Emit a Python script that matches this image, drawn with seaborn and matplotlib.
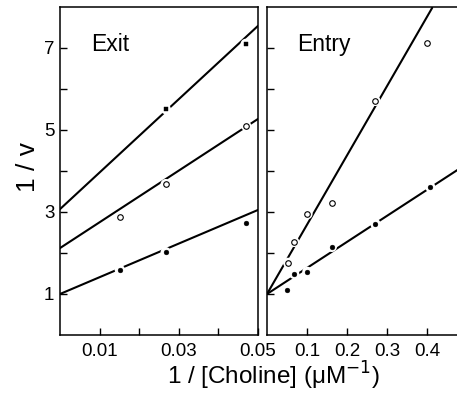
import matplotlib
matplotlib.use("Agg")
import matplotlib.pyplot as plt
import seaborn as sns
import pandas as pd
from matplotlib.ticker import MultipleLocator, FixedLocator

# ---- data ----
exit_sq_x = [0.0267, 0.0469]
exit_sq_y = [5.51, 7.10]
exit_open_x = [0.0151, 0.0267, 0.0470]
exit_open_y = [2.88, 3.68, 5.10]
exit_dot_x = [0.0151, 0.0267, 0.0470]
exit_dot_y = [1.59, 2.02, 2.73]

exit_fit_x = [0.0, 0.05]
exit_fit_sq_y = [3.07, 7.54]
exit_fit_open_y = [2.12, 5.27]
exit_fit_dot_y = [1.00, 3.05]

entry_open_x = [0.053, 0.068, 0.101, 0.162, 0.271, 0.400]
entry_open_y = [1.76, 2.27, 2.95, 3.22, 5.71, 7.12]
entry_dot_x = [0.051, 0.068, 0.101, 0.162, 0.271, 0.408]
entry_dot_y = [1.10, 1.49, 1.54, 2.15, 2.71, 3.61]

entry_fit_open_x = [0.0, 0.413]
entry_fit_open_y = [1.00, 7.98]
entry_fit_dot_x = [0.0, 0.48]
entry_fit_dot_y = [1.00, 4.05]

exit_xticks = [0.01, 0.03, 0.05]
exit_xtick_labels = ["0.01", "0.03", "0.05"]
entry_xticks = [0.1, 0.2, 0.3, 0.4]
entry_xtick_labels = ["0.1", "0.2", "0.3", "0.4"]
yticks = [1, 3, 5, 7]
ytick_labels = ["1", "3", "5", "7"]

sns.set_theme(style="ticks")
plt.rcParams["font.family"] = ["Liberation Sans", "DejaVu Sans"]
plt.rcParams["axes.linewidth"] = 1.1
plt.rcParams["xtick.direction"] = "in"
plt.rcParams["ytick.direction"] = "in"

W, H = 457, 398
fig = plt.figure(figsize=(W / 100, H / 100), dpi=100)
fig.patch.set_facecolor("white")

axL = fig.add_axes([60 / W, 1 - 335 / H, (258 - 60) / W, (335 - 7) / H])
axR = fig.add_axes([267 / W, 1 - 335 / H, (W - 267 + 2) / W, (335 - 7) / H])

LW = 1.5


def fit_line(ax, xs, ys):
    sns.lineplot(x=xs, y=ys, ax=ax, color="black", linewidth=LW,
                 estimator=None, sort=False, zorder=2)


def points(ax, xs, ys, kind):
    # white halo to break the line around the marker
    sns.scatterplot(x=xs, y=ys, ax=ax, s=55, color="white",
                    edgecolor="none", marker="o", zorder=3)
    if kind == "dot":
        sns.scatterplot(x=xs, y=ys, ax=ax, s=12, color="black",
                        edgecolor="black", linewidth=0.3, marker="o", zorder=4)
    elif kind == "sq":
        sns.scatterplot(x=xs, y=ys, ax=ax, s=12, color="black",
                        edgecolor="black", linewidth=0.3, marker="s", zorder=4)
    else:
        sns.scatterplot(x=xs, y=ys, ax=ax, s=16, color="white",
                        edgecolor="black", linewidth=0.8, marker="o", zorder=4)


# Exit panel
fit_line(axL, exit_fit_x, exit_fit_sq_y)
fit_line(axL, exit_fit_x, exit_fit_open_y)
fit_line(axL, exit_fit_x, exit_fit_dot_y)
points(axL, exit_sq_x, exit_sq_y, "sq")
points(axL, exit_open_x, exit_open_y, "open")
points(axL, exit_dot_x, exit_dot_y, "dot")

# Entry panel
fit_line(axR, entry_fit_open_x, entry_fit_open_y)
fit_line(axR, entry_fit_dot_x, entry_fit_dot_y)
points(axR, entry_open_x, entry_open_y, "open")
points(axR, entry_dot_x, entry_dot_y, "dot")

for ax in (axL, axR):
    ax.set_ylim(0, 8)
    ax.set_xlabel("")
    ax.set_ylabel("")
    ax.set_facecolor("white")
    for sp in ax.spines.values():
        sp.set_color("black")
        sp.set_linewidth(1.1)
    ax.set_yticks(yticks)
    ax.yaxis.set_minor_locator(FixedLocator([2, 4, 6]))
    ax.tick_params(which="both", direction="in", length=5, width=1.0,
                   color="black", labelsize=13.5, labelcolor="black")
    ax.tick_params(which="both", top=False, right=False)

axL.set_xlim(0, 0.05)
axL.set_xticks(exit_xticks)
axL.set_xticklabels(exit_xtick_labels)
axL.xaxis.set_minor_locator(FixedLocator([0.02, 0.04]))
axL.set_yticklabels(ytick_labels)
axL.tick_params(axis="y", pad=4)
axL.tick_params(axis="x", pad=6)

axR.set_xlim(0, 0.48)
axR.set_xticks(entry_xticks)
axR.set_xticklabels(entry_xtick_labels)
axR.tick_params(axis="y", labelleft=False)
axR.tick_params(axis="x", pad=6)
axR.spines["right"].set_visible(False)

axL.text(0.155, 0.885, "Exit", transform=axL.transAxes, fontsize=16.5,
         ha="left", va="center", color="black")
axR.text(0.155, 0.885, "Entry", transform=axR.transAxes, fontsize=16.5,
         ha="left", va="center", color="black")

fig.text(28 / W, 1 - 167 / H, "1 / v", rotation=90, fontsize=19,
         ha="center", va="center", color="black")
fig.text(273 / W, 1 - 376 / H, "1 / [Choline] (μM$^{-1}$)", fontsize=17.5,
         ha="center", va="center", color="black")

fig.savefig("out.png", dpi=100, facecolor="white")
